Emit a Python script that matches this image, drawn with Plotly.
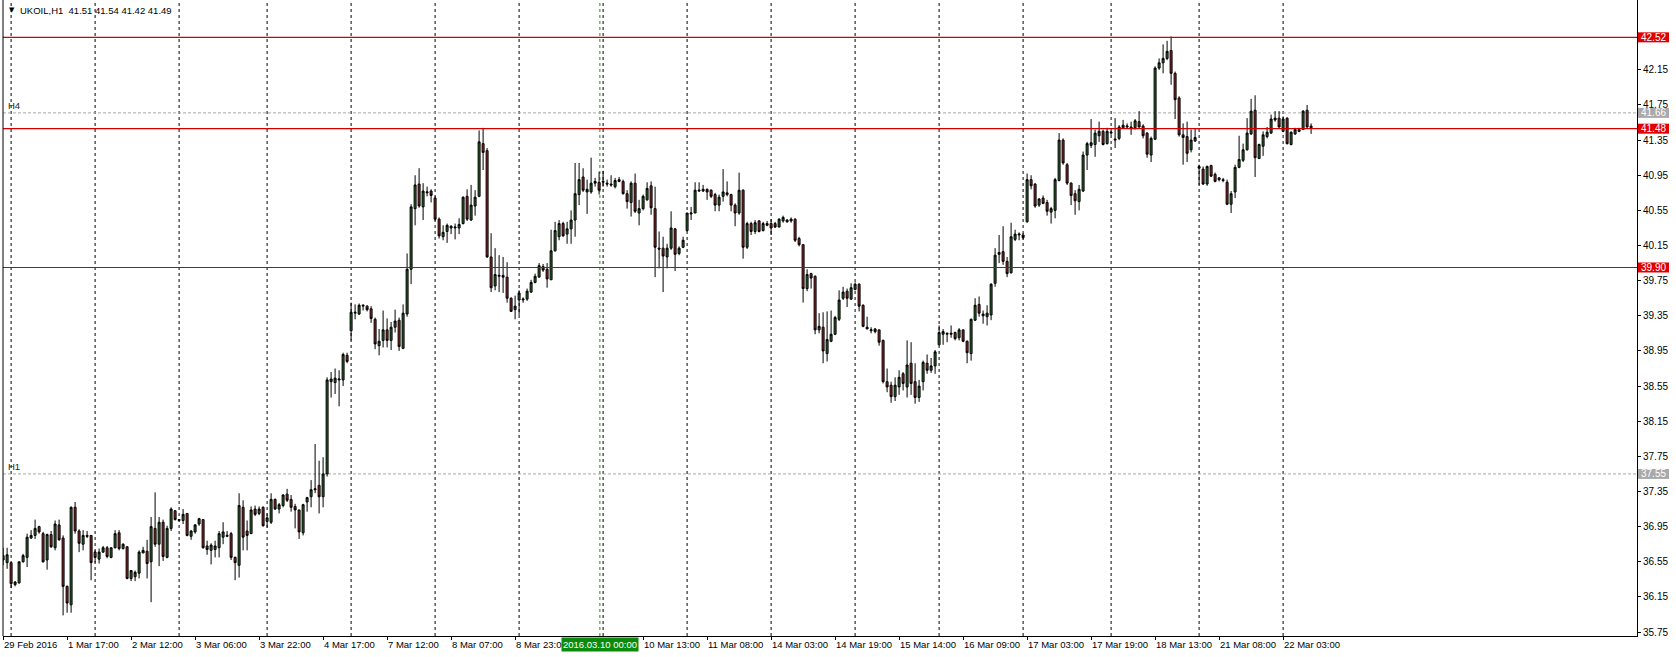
import plotly.graph_objects as go

# ---------------- data (UKOIL H1) ----------------
open_ = [36.62,36.54,36.54,36.29,36.31,36.55,36.60,36.82,36.85,36.95,36.87,36.57,36.86,36.71,36.97,36.82,36.27,36.06,37.17,36.90,
36.75,36.85,36.85,36.66,36.58,36.66,36.71,36.60,36.71,36.88,36.70,36.72,36.36,36.38,36.42,36.65,36.67,36.55,36.93,36.75,
37.00,36.60,36.93,37.13,37.02,37.02,37.10,36.84,36.89,36.98,37.03,36.73,36.68,36.69,36.71,36.83,36.84,36.87,36.60,36.51,
37.17,36.90,36.87,37.15,37.10,37.17,37.01,37.00,37.26,37.15,37.19,37.32,37.26,37.18,37.14,36.88,37.23,37.29,37.37,37.42,
37.29,37.55,38.60,38.59,38.62,38.62,38.90,39.18,39.38,39.37,39.46,39.46,39.43,39.31,39.01,39.07,39.19,39.07,39.22,39.30,
38.98,39.37,39.88,40.57,40.85,40.59,40.75,40.77,40.69,40.45,40.25,40.31,40.35,40.35,40.35,40.40,40.71,40.44,40.60,40.71,
41.31,41.23,40.02,39.69,39.80,39.81,39.79,39.55,39.42,39.53,39.53,39.54,39.62,39.73,39.79,39.91,39.88,39.76,40.09,40.25,
40.40,40.28,40.34,40.44,40.73,40.93,40.76,40.76,40.86,40.87,40.87,40.86,40.85,40.82,40.90,40.88,40.74,40.64,40.86,40.52,
40.57,40.67,40.83,40.57,40.12,40.12,40.02,40.12,40.34,40.06,40.13,40.32,40.51,40.52,40.77,40.77,40.79,40.78,40.73,40.61,
40.71,40.75,40.73,40.61,40.52,40.78,40.13,40.40,40.31,40.43,40.32,40.38,40.40,40.40,40.36,40.43,40.44,40.43,40.45,40.23,
40.16,39.66,39.83,39.80,39.19,39.22,38.92,39.06,39.14,39.31,39.55,39.63,39.54,39.65,39.71,39.47,39.20,39.18,39.20,39.19,
39.07,38.60,38.56,38.43,38.54,38.69,38.54,38.81,38.60,38.42,38.60,38.81,38.73,38.78,39.02,39.14,39.14,39.14,39.16,39.10,
39.19,39.06,38.92,39.30,39.48,39.35,39.34,39.36,39.72,40.05,40.08,39.97,39.84,40.22,40.27,40.27,40.42,40.90,40.85,40.61,
40.69,40.64,40.53,40.55,40.89,41.35,41.07,40.86,40.74,40.65,40.77,41.18,41.29,41.30,41.40,41.45,41.31,41.43,41.35,41.37,
41.49,41.50,41.50,41.49,41.56,41.51,41.43,41.18,41.36,42.17,42.23,42.28,42.37,42.11,41.83,41.41,41.39,41.24,41.34,41.05,
41.02,40.85,41.06,40.96,40.92,40.90,40.87,40.62,40.76,41.04,41.12,41.24,41.42,41.69,41.14,41.28,41.39,41.43,41.58,41.60,
41.45,41.60,41.30,41.42,41.45,41.47,41.69,41.51]
high = [36.71,36.71,36.54,36.33,36.55,36.64,36.87,36.91,37.03,36.96,36.89,36.87,36.90,37.02,37.03,36.85,36.28,37.18,37.23,36.92,
36.91,36.90,36.85,36.68,36.70,36.73,36.73,36.71,36.91,36.91,36.76,36.73,36.45,36.45,36.68,36.72,36.80,37.06,37.34,37.06,
37.03,36.96,37.17,37.14,37.03,37.15,37.10,36.91,36.98,37.05,37.03,36.79,36.76,36.79,36.90,37.00,36.90,36.89,36.61,37.33,
37.25,37.02,37.18,37.19,37.18,37.18,37.10,37.33,37.27,37.22,37.32,37.38,37.31,37.21,37.14,37.21,37.29,37.48,37.89,37.70,
37.74,38.65,38.71,38.75,38.73,38.93,38.93,39.50,39.48,39.49,39.48,39.47,39.46,39.33,39.20,39.41,39.32,39.28,39.42,39.33,
39.48,40.06,40.62,40.95,41.03,40.86,40.82,40.79,40.71,40.47,40.38,40.40,40.38,40.40,40.46,40.71,40.79,40.84,40.78,41.46,
41.49,41.26,40.29,40.12,40.04,40.02,39.96,39.56,39.58,39.64,39.56,39.66,39.76,39.83,39.95,39.94,39.95,40.33,40.42,40.44,
40.42,40.42,40.55,41.09,41.09,41.03,40.90,41.15,40.92,40.99,41.00,40.90,40.95,40.92,40.93,40.90,40.78,40.88,40.97,40.67,
40.73,40.87,40.88,40.82,40.31,40.25,40.17,40.54,40.35,40.14,40.25,40.52,40.59,40.87,40.87,40.84,40.80,40.79,40.75,40.73,
41.02,40.88,40.74,40.63,40.98,40.79,40.42,40.42,40.44,40.44,40.42,40.43,40.45,40.42,40.46,40.49,40.45,40.47,40.46,40.25,
40.16,39.88,39.84,39.81,39.38,39.39,39.40,39.41,39.35,39.64,39.68,39.66,39.72,39.73,39.72,39.48,39.34,39.22,39.21,39.19,
39.08,38.75,38.60,38.65,38.73,38.71,39.07,39.05,38.81,38.62,38.84,38.91,38.87,38.96,39.24,39.20,39.16,39.24,39.17,39.21,
39.19,39.07,39.32,39.55,39.57,39.41,39.47,39.72,40.12,40.27,40.37,40.02,40.41,40.33,40.30,40.29,40.97,40.95,40.86,40.69,
40.72,40.67,40.59,40.92,41.43,41.37,41.09,40.87,40.78,40.84,41.22,41.33,41.59,41.47,41.56,41.47,41.49,41.45,41.60,41.52,
41.58,41.54,41.56,41.59,41.68,41.53,41.44,41.39,42.19,42.28,42.44,42.48,42.53,42.13,41.85,41.54,41.56,41.47,41.48,41.07,
41.05,41.06,41.07,40.98,40.93,40.92,40.90,40.77,41.07,41.40,41.31,41.60,41.82,41.86,41.31,41.45,41.50,41.64,41.68,41.68,
41.62,41.61,41.45,41.49,41.49,41.69,41.75,41.54]
low = [36.51,36.47,36.25,36.27,36.30,36.54,36.49,36.81,36.81,36.87,36.54,36.46,36.71,36.68,36.79,35.94,35.97,35.97,36.87,36.66,
36.68,36.82,36.34,36.54,36.53,36.65,36.59,36.59,36.70,36.68,36.69,36.35,36.33,36.33,36.36,36.65,36.36,36.09,36.72,36.50,
36.56,36.59,36.90,37.02,37.01,36.98,36.84,36.80,36.87,36.96,36.70,36.63,36.52,36.60,36.60,36.75,36.83,36.57,36.34,36.37,
36.68,36.68,36.87,37.07,37.08,36.95,36.94,36.98,37.14,37.10,37.17,37.23,37.12,36.93,36.81,36.85,37.12,37.17,37.33,37.10,
37.17,37.52,38.42,38.46,38.32,38.55,38.81,39.07,39.31,39.36,39.41,39.40,39.27,38.97,38.90,38.99,38.99,38.96,39.16,38.95,
38.97,39.34,39.71,40.38,40.58,40.44,40.71,40.64,40.43,40.23,40.21,40.18,40.28,40.22,40.28,40.39,40.43,40.43,40.49,40.70,
41.01,40.01,39.62,39.64,39.62,39.61,39.50,39.40,39.31,39.36,39.50,39.52,39.61,39.72,39.79,39.85,39.67,39.76,40.08,40.21,
40.25,40.17,40.17,40.25,40.61,40.76,40.51,40.74,40.82,40.73,40.82,40.82,40.82,40.80,40.87,40.73,40.57,40.48,40.52,40.38,
40.55,40.66,40.50,39.79,39.89,39.62,39.89,40.10,39.86,40.04,40.12,40.31,40.44,40.52,40.76,40.76,40.67,40.69,40.54,40.54,
40.65,40.71,40.54,40.37,40.50,40.00,40.11,40.27,40.28,40.30,40.31,40.37,40.27,40.35,40.36,40.41,40.41,40.41,40.19,40.14,
39.50,39.63,39.66,39.14,39.15,38.81,38.83,39.05,39.13,39.29,39.53,39.45,39.53,39.64,39.40,39.22,39.20,39.15,39.15,39.01,
38.58,38.48,38.36,38.38,38.45,38.50,38.42,38.45,38.35,38.37,38.50,38.69,38.70,38.69,39.02,39.02,39.05,39.10,39.07,39.07,
39.05,38.81,38.84,39.29,39.34,39.26,39.24,39.30,39.68,39.95,39.93,39.79,39.83,40.20,40.21,40.22,40.41,40.79,40.58,40.59,
40.62,40.49,40.40,40.46,40.88,41.07,40.84,40.61,40.50,40.55,40.76,41.01,41.26,41.16,41.33,41.29,41.30,41.41,41.26,41.35,
41.48,41.48,41.41,41.47,41.49,41.37,41.15,41.10,41.35,42.15,42.11,42.26,41.98,41.59,41.39,41.07,41.10,41.21,41.33,40.84,
40.84,40.83,40.93,40.87,40.88,40.87,40.61,40.52,40.69,41.03,41.10,41.23,41.41,40.93,41.14,41.17,41.37,41.42,41.56,41.49,
41.44,41.30,41.29,41.41,41.44,41.47,41.49,41.42]
close = [36.57,36.63,36.30,36.32,36.55,36.62,36.83,36.85,36.93,36.89,36.55,36.86,36.72,36.98,36.80,36.27,36.08,37.17,36.90,36.76,
36.85,36.84,36.54,36.60,36.66,36.71,36.61,36.71,36.87,36.70,36.75,36.36,36.45,36.43,36.66,36.68,36.53,36.95,36.75,37.00,
36.61,36.93,37.15,37.03,37.03,37.09,36.85,36.90,36.97,37.04,36.71,36.69,36.74,36.73,36.87,36.89,36.85,36.60,36.54,37.19,
36.83,36.85,37.14,37.09,37.15,36.96,37.05,37.26,37.15,37.20,37.31,37.25,37.17,37.14,36.89,37.20,37.28,37.37,37.38,37.29,
37.55,38.62,38.63,38.64,38.63,38.91,38.83,39.39,39.39,39.47,39.47,39.42,39.32,39.03,39.06,39.19,39.07,39.22,39.29,39.00,
39.38,39.88,40.59,40.84,40.60,40.77,40.76,40.72,40.45,40.26,40.30,40.38,40.37,40.36,40.39,40.70,40.45,40.61,40.70,41.33,
41.21,40.02,39.67,39.82,39.81,39.79,39.55,39.40,39.46,39.61,39.54,39.63,39.73,39.80,39.92,39.87,39.77,40.09,40.32,40.40,
40.26,40.34,40.44,40.74,40.90,40.78,40.79,40.86,40.88,40.78,40.88,40.85,40.84,40.89,40.88,40.74,40.65,40.86,40.54,40.57,
40.71,40.80,40.58,40.13,40.11,40.03,40.12,40.35,40.05,40.12,40.21,40.52,40.52,40.78,40.78,40.79,40.76,40.71,40.61,40.70,
40.76,40.73,40.61,40.52,40.78,40.13,40.40,40.31,40.41,40.31,40.40,40.40,40.35,40.36,40.45,40.47,40.42,40.45,40.21,40.16,
39.66,39.82,39.78,39.19,39.23,38.95,39.08,39.14,39.33,39.53,39.62,39.55,39.67,39.71,39.46,39.23,39.22,39.19,39.17,39.05,
38.60,38.54,38.43,38.56,38.65,38.58,38.79,38.58,38.42,38.55,38.82,38.73,38.78,38.94,39.16,39.17,39.15,39.15,39.09,39.19,
39.06,38.93,39.31,39.47,39.38,39.37,39.38,39.71,40.04,40.07,39.97,39.83,40.25,40.28,40.28,40.24,40.90,40.83,40.60,40.68,
40.63,40.54,40.57,40.90,41.35,41.09,40.86,40.72,40.66,40.79,41.18,41.31,41.32,41.43,41.45,41.30,41.45,41.44,41.36,41.50,
41.52,41.51,41.48,41.57,41.50,41.40,41.19,41.37,42.17,42.23,42.28,42.36,42.11,41.81,41.41,41.38,41.20,41.35,41.38,41.03,
40.85,41.05,40.94,40.88,40.90,40.89,40.62,40.74,41.04,41.13,41.24,41.43,41.68,41.15,41.30,41.41,41.44,41.59,41.60,41.50,
41.59,41.31,41.44,41.47,41.47,41.68,41.50,41.49]

day_start_bars = [2, 23, 44, 66, 87, 108, 129, 150, 171, 192, 213, 234, 255, 277, 299, 320]
time_label_bars = [0, 16, 32, 48, 64, 80, 96, 112, 128, 160, 176, 192, 208, 224, 240, 256, 272, 288, 304, 320]
time_labels = ["29 Feb 2016", "1 Mar 17:00", "2 Mar 12:00", "3 Mar 06:00", "3 Mar 22:00", "4 Mar 17:00",
               "7 Mar 12:00", "8 Mar 07:00", "8 Mar 23:00", "10 Mar 13:00", "11 Mar 08:00", "14 Mar 03:00",
               "14 Mar 19:00", "15 Mar 14:00", "16 Mar 09:00", "17 Mar 03:00", "17 Mar 19:00", "18 Mar 13:00",
               "21 Mar 08:00", "22 Mar 03:00"]
price_ticks = [35.75, 36.15, 36.55, 36.95, 37.35, 37.75, 38.15, 38.55, 38.95, 39.35, 39.75, 40.15, 40.55,
               40.95, 41.35, 41.75, 42.15]
red_levels = [42.52, 41.48, 39.90]
gray_levels = [41.66, 37.55]
gray_level_names = ["H4", "H1"]
vline_bar = 149.2
vline_label = "2016.03.10 00:00"
title_text = "UKOIL,H1  41.51 41.54 41.42 41.49"

# ---------------- style ----------------
FONT = "Liberation Sans"
FS = 9.5
FSY = 10
GREEN = "#246624"
RED = "#a02020"
LINE_RED = "#d00000"
W, Hgt = 1676, 657
ML, MR, MT, MB = 3, 39, 0, 21
PW = W - ML - MR
PH = Hgt - MT - MB
YMIN, YMAX = 35.705, 42.945
PX_PER_UNIT = PH / (YMAX - YMIN)
XMIN = -0.025
XMAX = XMIN + PW / 4.0

n = len(close)
xs = list(range(n))

fig = go.Figure()
fig.add_trace(go.Candlestick(
    x=xs, open=open_, high=high, low=low, close=close,
    increasing=dict(fillcolor=GREEN, line=dict(color="black", width=1)),
    decreasing=dict(fillcolor=RED, line=dict(color="black", width=1)),
    whiskerwidth=0, showlegend=False, hoverinfo="skip",
))

shapes = []
for b in day_start_bars:
    shapes.append(dict(type="line", xref="x", yref="paper", x0=b, x1=b, y0=0, y1=1,
                       line=dict(color="black", width=1, dash="3px,3px"), layer="below"))
shapes.append(dict(type="line", xref="x", yref="paper", x0=vline_bar, x1=vline_bar, y0=0, y1=1,
                   line=dict(color="#1f8a1f", width=1, dash="3px,3px"), layer="below"))
for p in red_levels:
    shapes.append(dict(type="line", xref="paper", yref="y", x0=0, x1=1, y0=p, y1=p,
                       line=dict(color=LINE_RED, width=1.2), layer="above"))
for p in gray_levels:
    shapes.append(dict(type="line", xref="paper", yref="y", x0=0, x1=1, y0=p, y1=p,
                       line=dict(color="#a8a8a8", width=1, dash="3px,2px"), layer="below"))
shapes.append(dict(type="line", xref="paper", yref="paper", x0=0, x1=0, y0=0, y1=1,
                   line=dict(color="black", width=1)))
half = 5.0 / PX_PER_UNIT
for p, col in [(p, "#e00000") for p in red_levels] + [(p, "#a9a9a9") for p in gray_levels]:
    shapes.append(dict(type="rect", xref="paper", yref="y", x0=1 + 1.0 / PW, x1=1 + 32.0 / PW,
                       y0=p - half, y1=p + half, fillcolor=col, line=dict(width=0), layer="above"))

annotations = []
for p in red_levels + gray_levels:
    annotations.append(dict(xref="paper", yref="y", x=1 + 2.0 / PW, y=p, xanchor="left", yanchor="middle",
                            text=f"{p:.2f}", showarrow=False, font=dict(family=FONT, size=FSY, color="white")))
for p, name in zip(gray_levels, gray_level_names):
    annotations.append(dict(xref="paper", yref="y", x=0, xshift=3, y=p, yshift=7, xanchor="left",
                            yanchor="middle", text=name, showarrow=False,
                            font=dict(family=FONT, size=FS, color="#222222")))
for b, t in zip(time_label_bars, time_labels):
    annotations.append(dict(xref="x", yref="paper", x=b, xshift=-1, y=0, yshift=-1, xanchor="left",
                            yanchor="top", text=t, showarrow=False,
                            font=dict(family=FONT, size=FS, color="black")))
annotations.append(dict(xref="x", yref="paper", x=vline_bar, y=0, yshift=-1, xanchor="center", yanchor="top",
                        text=vline_label, showarrow=False, bgcolor="#0b8a0b", borderpad=1,
                        font=dict(family=FONT, size=FS, color="white")))
annotations.append(dict(xref="paper", yref="paper", x=0, xshift=4, y=1, yshift=-4, xanchor="left", yanchor="top",
                        text="▼", showarrow=False, font=dict(family="DejaVu Sans", size=7, color="black")))
annotations.append(dict(xref="paper", yref="paper", x=0, xshift=15, y=1, yshift=-3, xanchor="left", yanchor="top",
                        text=title_text, showarrow=False, font=dict(family=FONT, size=FS, color="black")))

fig.update_layout(
    width=W, height=Hgt,
    margin=dict(l=ML, r=MR, t=MT, b=MB, pad=0),
    paper_bgcolor="white", plot_bgcolor="white",
    showlegend=False,
    boxgap=0.3,
    shapes=shapes, annotations=annotations,
    xaxis=dict(range=[XMIN, XMAX], showgrid=False, zeroline=False, rangeslider=dict(visible=False),
               showline=True, linecolor="black", linewidth=1, ticks="outside", ticklen=3,
               tickcolor="black", tickvals=time_label_bars, showticklabels=False, fixedrange=True),
    yaxis=dict(range=[YMIN, YMAX], side="right", showgrid=False, zeroline=False,
               showline=True, linecolor="black", linewidth=1, ticks="outside", ticklen=3,
               tickcolor="black", tickvals=price_ticks, ticktext=[f"{v:.2f}" for v in price_ticks],
               tickfont=dict(family=FONT, size=FSY, color="black"), fixedrange=True),
)

fig.write_html("out.html", config={"displayModeBar": False},
               post_script="document.body.style.margin='0px';document.body.style.overflow='hidden';")
